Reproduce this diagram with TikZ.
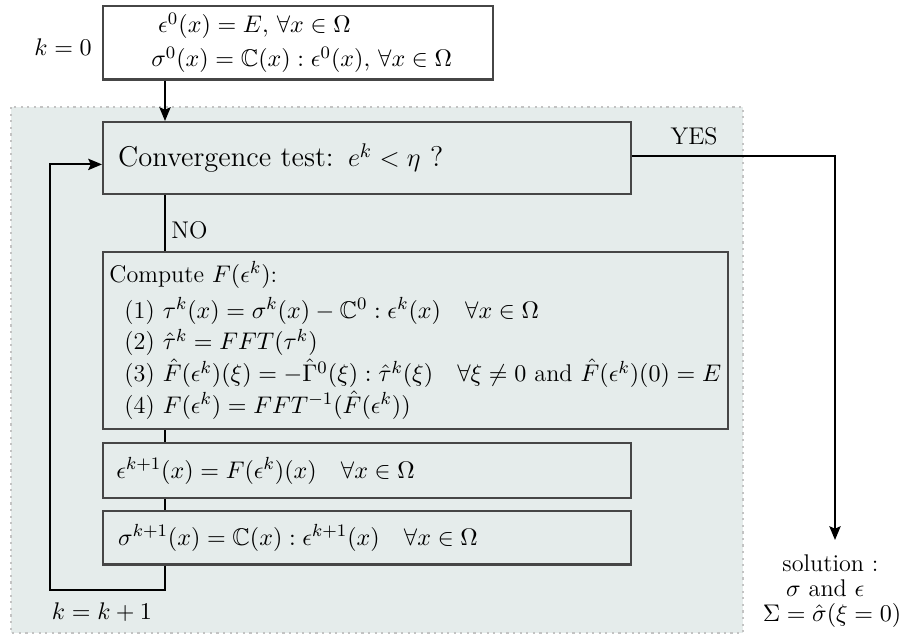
\documentclass[tikz,border=0pt]{standalone}
\usepackage{amsmath,amssymb}
\usepackage{tikz}
\usetikzlibrary{arrows.meta}
\usetikzlibrary{calc}

\definecolor{panelfill}{RGB}{229,236,235}
\definecolor{panelline}{RGB}{195,195,195}
\definecolor{boxline}{RGB}{70,70,70}

\begin{document}
\begin{tikzpicture}[x=0.16mm,y=-0.16mm]
	\tikzstyle{every node}+=[inner sep=0pt, font=\fontsize{11}{14.5}\selectfont]
	\tikzstyle{stepbox}=[draw=boxline, line width=1.1pt, anchor=north west, align=left, inner ysep=0pt]
	\tikzstyle{flow}=[black, line width=1pt, -{Stealth[length=2.2mm,width=1.8mm,inset=0.4mm]}]
	\tikzstyle{wire}=[black, line width=1pt]
	\useasboundingbox (0,0) rectangle (905,637);
	% loop area
	\draw [panelline, fill=panelfill, dotted, line width=1pt] (11,107) rectangle (743,633);
	\coordinate (spine) at (165,0);
	\coordinate (back) at (50,590);
	\coordinate (solin) at (835,540);
	% boxes
	\node [stepbox, fill=white, inner xsep=4.2mm, text width=54mm, minimum height=11.7mm, font=\fontsize{11}{15.5}\selectfont] (init) at (102,5)
		{\hspace*{4.6mm}$\epsilon^0(x) = E,\, \forall x \in \Omega$\\ \hspace*{3.5mm}$\sigma^0(x) = \mathbb{C}(x) : \epsilon^0(x),\, \forall x \in \Omega$};
	\node [stepbox, inner xsep=2.4mm, text width=79.6mm, minimum height=11.5mm, font=\fontsize{13}{16}\selectfont] (conv) at (102,121)
		{Convergence test: $e^k < \eta$ ?};
	\node [stepbox, inner xsep=1mm, text width=98mm, minimum height=28.3mm] (compute) at (102,251)
		{Compute $F(\epsilon^k)$:\\[0.6mm]
		\hspace*{2.4mm}(1) $\tau^k(x) = \sigma^k(x) - \mathbb{C}^0 : \epsilon^k(x) \quad \forall x \in \Omega$\\
		\hspace*{2.4mm}(2) $\hat{\tau}^k = FFT(\tau^k)$\\
		\hspace*{2.4mm}(3) $\hat{F}(\epsilon^k)(\xi) = -\hat{\Gamma}^0(\xi) : \hat{\tau}^k(\xi) \quad \forall \xi \neq 0$ and $\hat{F}(\epsilon^k)(0) = E$\\
		\hspace*{2.4mm}(4) $F(\epsilon^k) = FFT^{-1}(\hat{F}(\epsilon^k))$};
	\node [stepbox, inner xsep=2.1mm, text width=80.2mm, minimum height=8.8mm] (eps) at (102,442)
		{$\epsilon^{k+1}(x) = F(\epsilon^k)(x) \quad \forall x \in \Omega$};
	\node [stepbox, inner xsep=2.4mm, text width=79.6mm, minimum height=8.5mm] (sigma) at (102,510)
		{$\sigma^{k+1}(x) = \mathbb{C}(x) : \epsilon^{k+1}(x) \quad \forall x \in \Omega$};
	% labels
	\node (kzero) at (63,47) {$k=0$};
	\node [anchor=west] (no) at (171,230) {NO};
	\node (yes) at (694,136) {YES};
	\node (knext) at (102,612) {$k=k+1$};
	\node [anchor=north west, align=left, font=\fontsize{11}{11.4}\selectfont] (sol) at (782,554) {solution :\\ \hspace*{0.6mm}$\sigma$ and $\epsilon$};
	\node [anchor=base] (sum) at (832,621) {$\Sigma = \hat{\sigma}(\xi = 0)$};
	% connectors
	\draw [flow] (init.south -| spine) -- (conv.north -| spine);
	\draw [wire] (conv.south -| spine) -- (compute.north -| spine);
	\draw [wire] (compute.south -| spine) -- (eps.north -| spine);
	\draw [wire] (eps.south -| spine) -- (sigma.north -| spine);
	\draw [flow] (sigma.south -| spine) |- (back) |- ([yshift=-1mm]conv.west);
	\draw [flow] ([yshift=0.3mm]conv.east) -| (solin);
\end{tikzpicture}
\end{document}
